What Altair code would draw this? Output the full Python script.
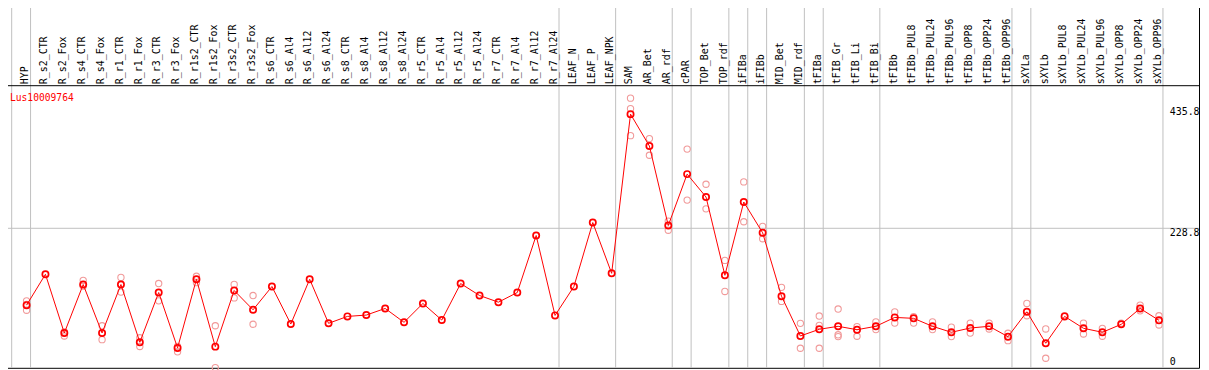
import altair as alt
import pandas as pd

gene = "Lus10009764"

categories = [
    "HYP", "R_s2_CTR", "R_s2_Fox", "R_s4_CTR", "R_s4_Fox", "R_r1_CTR", "R_r1_Fox",
    "R_r3_CTR", "R_r3_Fox", "R_r1s2_CTR", "R_r1s2_Fox", "R_r3s2_CTR", "R_r3s2_Fox",
    "R_s6_CTR", "R_s6_Al4", "R_s6_Al12", "R_s6_Al24", "R_s8_CTR", "R_s8_Al4",
    "R_s8_Al12", "R_s8_Al24", "R_r5_CTR", "R_r5_Al4", "R_r5_Al12", "R_r5_Al24",
    "R_r7_CTR", "R_r7_Al4", "R_r7_Al12", "R_r7_Al24", "LEAF_N", "LEAF_P", "LEAF_NPK",
    "SAM", "AR_Bet", "AR_rdf", "cPAR", "TOP_Bet", "TOP_rdf", "iFIBa", "iFIBb",
    "MID_Bet", "MID_rdf", "tFIBa", "tFIB_Gr", "tFIB_Li", "tFIB_Bi", "tFIBb",
    "tFIBb_PUL8", "tFIBb_PUL24", "tFIBb_PUL96", "tFIBb_OPP8", "tFIBb_OPP24",
    "tFIBb_OPP96", "sXYLa", "sXYLb", "sXYLb_PUL8", "sXYLb_PUL24", "sXYLb_PUL96",
    "sXYLb_OPP8", "sXYLb_OPP24", "sXYLb_OPP96",
]

mean_values = [
    97.6, 150.3, 50.1, 132.8, 50.1, 132.8, 34.3, 119.2, 24.6, 141.8, 26.8, 122.6, 89.7,
    129.4, 65.4, 141.8, 66.6, 78.4, 80.7, 92.0, 68.3, 100.5, 72.2, 134.5, 114.1,
    102.7, 119.2, 216.5, 80.1, 129.4, 238.6, 152.0,
    423.7, 369.3, 233.5, 321.3, 282.2, 148.6, 273.7, 221.1, 112.9, 45.0,
    56.4, 61.5, 55.7, 61.5, 76.7, 75.1, 61.5, 51.3, 58.6, 61.5, 43.8,
    86.3, 32.6, 78.4, 58.1, 51.3, 64.9, 92.0, 71.7,
]

rep_a = [
    105, None, 52, 140, 62.5, 145, 42, 134.5, 27, 147, 62.5, 133, 114,
    None, None, None, None, None, None, None, None, None, None, None, None,
    None, None, None, None, None, None, None,
    451, 382, 241, 364, 304, 174, 308, 232, 128, 66.6,
    79, 91, 61, 69, 86, 78, 69, 60, 67, 67, 49.6,
    100.5, 57, 79.5, 67, 58, 67, 97.6, 79.5,
]
rep_b = [
    99, None, 45, 130, 38.7, 120, 27, 105, 18, 136, -9, 110, 65,
    None, None, None, None, None, None, None, None, None, None, None, None,
    None, None, None, None, None, None, None,
    433, 353.5, 225.5, 277, 262, 121, 240, 211, 104, 24.1,
    63, 47, 44.5, 56, 67, 67, 56, 44, 50, 57, 37,
    79.5, 7, None, 48.4, 44.5, None, 88, 63.7,
]
rep_c = [
    89, None, None, None, None, None, None, None, None, None, None, None, None,
    None, None, None, None, None, None, None, None, None, None, None, None,
    None, None, None, None, None, None, None,
    387, None, None, None, None, None, None, None, None, None,
    24, 44, None, None, None, None, None, None, None, None, None,
    None, None, None, None, None, None, None, None,
]

group_ends = [-1, 0, 28, 31, 34, 35, 37, 38, 39, 41, 42, 45, 52, 53, 60]
grid_values = [228.8]
tick_values = [228.8, 435.8]
tick_labels = ["228.8", "435.8"]
zero_values = [0]
zero_labels = ["0"]

idx = list(range(len(categories)))
means = pd.DataFrame({"idx": idx, "cat": categories, "mean": mean_values})
reps = pd.DataFrame(
    [{"idx": i, "value": v} for i in idx for v in (rep_a[i], rep_b[i], rep_c[i]) if v is not None]
)
bounds = pd.DataFrame({"idx": group_ends})
grid = pd.DataFrame({"v": grid_values})
ticks = pd.DataFrame({"v": tick_values, "label": tick_labels})
zero = pd.DataFrame({"v": zero_values, "label": zero_labels})

W, H = 1206, 369
FONT = "DejaVu Sans Mono"
xs = alt.Scale(domain=[0, 60], range=[25.7, 1165.7], nice=False, zero=False)
ys = alt.Scale(domain=[0, 435.8], range=[363.5, 106.5], nice=False, zero=False)


def X(f):
    return alt.X(f"{f}:Q", scale=xs, axis=None)


def Y(f):
    return alt.Y(f"{f}:Q", scale=ys, axis=None)


vlines = alt.Chart(bounds).mark_rule(color="#c0c0c0", strokeWidth=1, xOffset=4).encode(x=X("idx"))
hline = alt.Chart(grid).mark_rule(color="#c0c0c0", strokeWidth=1).encode(y=Y("v"))
sep = alt.Chart(pd.DataFrame({"a": [0]})).mark_rule(color="black", strokeWidth=1).encode(
    y=alt.value(85), x=alt.value(0), x2=alt.value(W)
)
cat_labels = alt.Chart(means).mark_text(
    angle=270, align="left", baseline="alphabetic", dy=1.8, font=FONT, fontSize=10, color="black"
).encode(x=X("idx"), y=alt.value(83.5), text="cat:N")

rep_pts = alt.Chart(reps).mark_point(
    shape="circle", filled=False, color="#f19a9a", strokeWidth=1.1, size=40, opacity=1
).encode(x=X("idx"), y=Y("value"))
line = alt.Chart(means).mark_line(color="#ff0000", strokeWidth=1).encode(x=X("idx"), y=Y("mean"))
mean_pts = alt.Chart(means).mark_point(
    shape="circle", filled=False, color="#ff0000", strokeWidth=1.7, size=40, opacity=1
).encode(x=X("idx"), y=Y("mean"))

tick_text = alt.Chart(ticks).mark_text(
    align="left", baseline="top", font=FONT, fontSize=10, color="black"
).encode(y=Y("v"), x=alt.value(1176.5), text="label:N")
zero_text = alt.Chart(zero).mark_text(
    align="left", baseline="middle", font=FONT, fontSize=10, color="black"
).encode(y=Y("v"), x=alt.value(1176.5), text="label:N")

gene_text = alt.Chart(pd.DataFrame({"g": [gene]})).mark_text(
    align="left", baseline="alphabetic", font=FONT, fontSize=9.7, color="#ff0000"
).encode(x=alt.value(9), y=alt.value(100.7), text="g:N")

chart = alt.layer(
    vlines, hline, sep, cat_labels, rep_pts, line, mean_pts, tick_text, zero_text, gene_text
).properties(
    width=W,
    height=H,
    autosize=alt.AutoSizeParams(type="none"),
    padding={"left": -7, "top": -8, "right": 2, "bottom": 1},
    background="white",
).configure_view(stroke="black", strokeWidth=1)

chart.save("out.html", embed_options={"renderer": "svg", "actions": False})
